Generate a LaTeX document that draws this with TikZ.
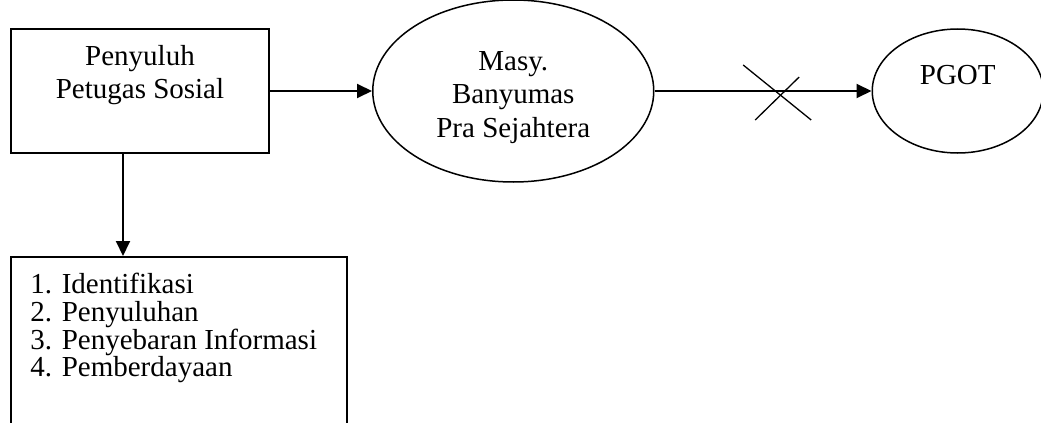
\documentclass[tikz,border=0pt]{standalone}
\usepackage{fontspec}
\setmainfont{Liberation Serif}
\usetikzlibrary{arrows.meta,calc,positioning,shapes.geometric}
\tikzset{
    flow diagram/.style = {x=0.5pt, y=-0.5pt,
                           >={Triangle[length=7.5pt, width=7pt]}},
    line/.style         = {line width=1pt},
    block/.style        = {draw, line width=1pt,
                           minimum width=129pt, minimum height=62pt},
    actor/.style        = {draw, ellipse, line width=0.75pt, inner sep=0pt},
    txt/.style          = {inner sep=0pt, align=center,
                           font=\fontsize{14.5pt}{16.6pt}\selectfont},
    list/.style         = {txt, align=left,
                           font=\fontsize{14.5pt}{13.8pt}\selectfont},
    cross line/.style   = {line width=0.65pt}
}
\begin{document}
\begin{tikzpicture}[flow diagram]
\clip (0,0) rectangle (1041,423);

% Main line: officers -> community -> PGOT
\node[block] (pen) at (140,91) {};
\node[actor, minimum width=140.5pt, minimum height=91pt, right=51pt of pen] (masy) {};
\node[actor, minimum width=85.5pt, minimum height=62pt, right=108.5pt of masy] (pgot) {};

% Activity list, box runs off the bottom
\node[block, minimum width=168pt, minimum height=100pt,
      below=51pt of pen.south west, anchor=north west] (keg) {};

% Texts sit near the top of their shapes
\node[txt, below=8.5pt of pen.north] (pentxt) {Penyuluh\\Petugas Sosial};
\node[txt, below=26pt of masy.north] (masytxt) {Masy.\\Banyumas\\Pra Sejahtera};
\node[txt, below=18.5pt of pgot.north] (pgottxt) {PGOT};
\node[list, below right=8.5pt and 10pt of keg.north west] (kegtxt)
    {1. Identifikasi\\2. Penyuluhan\\3. Penyebaran Informasi\\4. Pemberdayaan};

\draw[->, line] (pen.east) -- (masy.west);
\draw[->, line] (masy.east) -- (pgot.west);
\draw[->, line] ([xshift=-8.5pt]pen.south) -- ([xshift=-8.5pt]pen.south |- keg.north);

% Crossed-out link
\coordinate (cut) at ($(masy.east)!0.57!(pgot.west)$);
\draw[cross line] ($(cut)+(-35,-26)$) -- ($(cut)+(33,29)$);
\draw[cross line] ($(cut)+(-23,29)$) -- ($(cut)+(21,-14)$);

\end{tikzpicture}
\end{document}
